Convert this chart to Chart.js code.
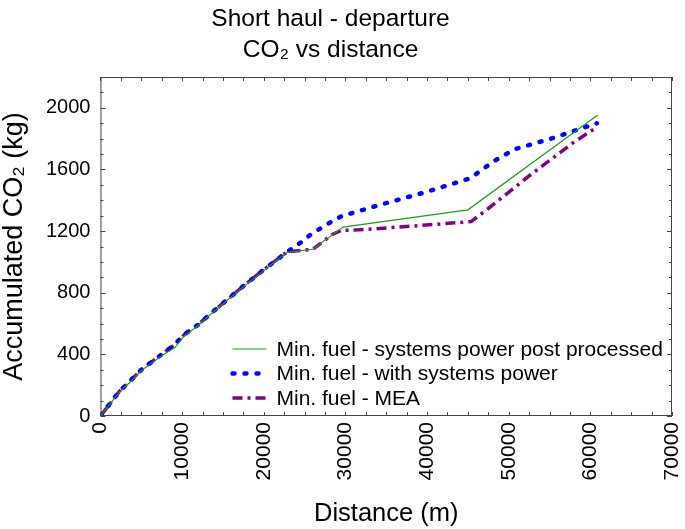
<!DOCTYPE html>
<html>
<head>
<meta charset="utf-8">
<script src="https://cdn.jsdelivr.net/npm/chart.js@4.4.0/dist/chart.umd.min.js"></script>
<style>
  html, body { margin: 0; padding: 0; background: #fff; }
  #wrap { width: 685px; height: 529px; }
</style>
</head>
<body>
<div id="wrap"><canvas id="co2Chart"></canvas></div>
<script>
const chartTitle = ['Short haul - departure', 'CO\u2082 vs distance'];
const xTicks = [0, 10000, 20000, 30000, 40000, 50000, 60000, 70000];
const yTicks = [0, 400, 800, 1200, 1600, 2000];
const seriesNames = [
    'Min. fuel - systems power post processed',
    'Min. fuel - with systems power',
    'Min. fuel - MEA'
];

// post processed (green)
const postDist = [0, 1100, 2330, 3550, 5000, 6400, 7800, 9100, 10300, 11900, 13400, 17200, 20000, 22900, 26000, 29700, 45000, 60900];
const postCO2  = [0, 74, 157, 216, 295, 348, 400, 444, 522, 584, 656, 825, 945, 1062, 1082, 1226, 1338, 1954];

// with systems power (blue)
const sysDist = [0, 1100, 2300, 3500, 5000, 6400, 7800, 9000, 10300, 11900, 13400, 17200, 20000, 22900, 24400, 25800, 28400, 29600, 31400, 34200, 39700, 45200, 46800, 48000, 50700, 55000, 57700, 60800];
const sysCO2  = [0, 76, 160, 220, 300, 356, 412, 460, 530, 590, 660, 830, 950, 1066, 1121, 1180, 1265, 1298, 1326, 1370, 1451, 1541, 1600, 1648, 1731, 1797, 1845, 1900];

// MEA (purple)
const meaDist = [0, 1100, 2300, 3500, 5000, 6400, 7800, 9000, 10300, 11900, 13400, 17200, 20000, 22900, 26000, 28400, 29500, 31700, 39900, 45400, 47300, 52300, 57800, 60800];
const meaCO2  = [0, 76, 160, 220, 300, 356, 412, 460, 530, 590, 660, 830, 950, 1066, 1082, 1178, 1205, 1208, 1239, 1262, 1338, 1550, 1770, 1875];

const toPoints = (xs, ys) => xs.map((d, i) => ({ x: d, y: ys[i] }));
const font = '"Liberation Sans", Arial, sans-serif';

// two line title, a bit left of the canvas centre like the original
const topTitle = {
    id: 'topTitle',
    afterDraw(chart) {
        const { ctx } = chart;
        ctx.save();
        ctx.font = '24.5px ' + font;
        ctx.fillStyle = '#000';
        ctx.textAlign = 'center';
        ctx.textBaseline = 'alphabetic';
        const cx = chart.width / 2 - 12;
        ctx.fillText(chartTitle[0], cx, 26);
        ctx.fillText(chartTitle[1], cx, 57);
        ctx.restore();
    }
};

// frame round the plot with little inward ticks on all four sides
const frameTicks = {
    id: 'frameTicks',
    afterDatasetsDraw(chart) {
        const { ctx, chartArea: a, scales: { x, y } } = chart;
        ctx.save();
        ctx.strokeStyle = '#444';
        ctx.lineWidth = 1;
        ctx.strokeRect(a.left + 0.5, a.top + 0.5, a.right - a.left - 1, a.bottom - a.top - 1);
        ctx.beginPath();
        for (let v = 0; v <= 70000; v += 2500) {
            const px = Math.round(x.getPixelForValue(v)) + 0.5;
            ctx.moveTo(px, a.bottom); ctx.lineTo(px, a.bottom - 4);
            ctx.moveTo(px, a.top); ctx.lineTo(px, a.top + 4);
        }
        for (let v = 0; v <= 2200; v += 100) {
            const py = Math.round(y.getPixelForValue(v)) + 0.5;
            const len = v % 400 === 0 ? 5 : 3;
            ctx.moveTo(a.left, py); ctx.lineTo(a.left + len, py);
            ctx.moveTo(a.right, py); ctx.lineTo(a.right - len, py);
        }
        ctx.stroke();
        ctx.restore();
    }
};

// legend drawn inside the plot, lower right
const innerLegend = {
    id: 'innerLegend',
    afterDraw(chart) {
        const { ctx, chartArea: a } = chart;
        const x0 = a.left + 132, y0 = a.bottom - 67, row = 24.5;
        ctx.save();
        ctx.font = '21px ' + font;
        ctx.textBaseline = 'middle';
        ctx.fillStyle = '#000';
        chart.data.datasets.forEach((ds, i) => {
            const yy = y0 + i * row;
            ctx.strokeStyle = ds.borderColor;
            ctx.lineWidth = ds.borderWidth;
            ctx.lineCap = ds.borderCapStyle || 'butt';
            ctx.setLineDash(ds.borderDash || []);
            ctx.beginPath();
            ctx.moveTo(x0, yy);
            ctx.lineTo(x0 + 34, yy);
            ctx.stroke();
            ctx.setLineDash([]);
            ctx.fillText(ds.label, x0 + 44, yy + 1);
        });
        ctx.restore();
    }
};

new Chart(document.getElementById('co2Chart'), {
    type: 'line',
    data: {
        datasets: [
            { label: seriesNames[0], data: toPoints(postDist, postCO2), borderColor: '#1f9a1f', borderWidth: 1.2 },
            { label: seriesNames[1], data: toPoints(sysDist, sysCO2), borderColor: '#0000ff', borderWidth: 4.5, borderDash: [2, 10], borderCapStyle: 'round' },
            { label: seriesNames[2], data: toPoints(meaDist, meaCO2), borderColor: '#800080', borderWidth: 3.5, borderDash: [10, 5, 3, 5] }
        ]
    },
    options: {
        responsive: true,
        maintainAspectRatio: false,
        animation: false,
        layout: { padding: { top: 77, right: 0, left: 0, bottom: 0 } },
        elements: { point: { radius: 0 }, line: { tension: 0, fill: false } },
        scales: {
            x: {
                type: 'linear', min: 0, max: 70000,
                afterBuildTicks: s => { s.ticks = xTicks.map(v => ({ value: v })); },
                // the last rotated label only needs a little room on the right
                afterFit: s => { s.paddingRight = 13; },
                grid: { display: false, drawTicks: false },
                border: { display: false },
                ticks: { color: '#000', font: { family: font, size: 21 }, minRotation: 90, maxRotation: 90, padding: 6, callback: v => String(v) },
                title: { display: true, text: 'Distance (m)', color: '#000', font: { family: font, size: 25.5 }, padding: { top: 12, bottom: 0 } }
            },
            y: {
                type: 'linear', min: 0, max: 2200,
                afterBuildTicks: s => { s.ticks = yTicks.map(v => ({ value: v })); },
                grid: { display: false, drawTicks: false },
                border: { display: false },
                ticks: { color: '#000', font: { family: font, size: 20 }, padding: 10, callback: v => String(v) },
                title: { display: true, text: 'Accumulated CO\u2082 (kg)', color: '#000', font: { family: font, size: 27, lineHeight: 1 }, padding: { top: 1, bottom: 8 } }
            }
        },
        plugins: {
            legend: { display: false },
            tooltip: { enabled: false },
            title: { display: false }
        }
    },
    plugins: [frameTicks, innerLegend, topTitle]
});
</script>
</body>
</html>
